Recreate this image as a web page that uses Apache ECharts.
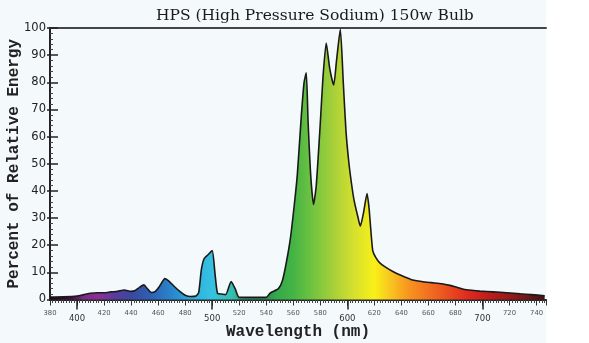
<!DOCTYPE html>
<html>
<head>
<meta charset="utf-8">
<script src="https://cdn.jsdelivr.net/npm/echarts@6/dist/echarts.min.js"></script>
<style>html,body{margin:0;padding:0;background:#ffffff;}#c{width:589px;height:343px;}</style>
</head>
<body>
<div id="c"></div>
<script>
var titleText = 'HPS (High Pressure Sodium) 150w Bulb';
var xName = 'Wavelength (nm)';
var yName = 'Percent of Relative Energy';
var minorXLabels = [380, 420, 440, 460, 480, 520, 540, 560, 580, 620, 640, 660, 680, 720, 740];
var majorXLabels = [400, 500, 600, 700];
var wavelengths = [380, 390, 400, 405, 410, 415, 420, 425, 430, 435, 440, 443, 446, 449.5, 452, 455, 458, 461, 465, 468, 472, 476, 480, 484, 488, 490, 492, 494, 497, 500, 502, 504, 507, 510, 514, 517, 520, 530, 540, 543, 549, 552, 555, 558, 561, 563, 566, 568, 569.6, 571, 573, 575, 577, 580, 582, 584.4, 587, 589.9, 592, 594.8, 597, 599, 601, 603, 605, 608, 609.6, 612, 614.6, 616, 617, 618.8, 621, 624, 628, 634, 640, 647, 655, 662, 670, 676, 681, 686, 692, 698, 708, 718, 728, 736, 746];
var energy = [0.9, 1.0, 1.3, 1.8, 2.3, 2.5, 2.5, 2.8, 3.0, 3.5, 3.0, 3.3, 4.4, 5.4, 4.0, 2.6, 3.0, 4.8, 7.7, 6.8, 4.8, 3.0, 1.6, 1.1, 1.3, 2.5, 11.0, 15.0, 16.5, 18.0, 10.0, 2.2, 2.0, 1.8, 6.6, 4.0, 0.8, 0.8, 0.8, 2.4, 4.0, 7.0, 14, 23, 36, 46, 68, 80, 83.5, 65, 45, 35, 42, 65, 82, 94.5, 85, 79, 88, 99.5, 80, 62, 51, 43, 36.5, 30, 27, 32, 39, 34, 28, 18, 15.5, 13.5, 12, 10.2, 8.8, 7.4, 6.6, 6.2, 5.8, 5.2, 4.5, 3.8, 3.4, 3.1, 2.8, 2.5, 2.1, 1.8, 1.4];
var spectrumStops = [
  [380, '#1c0614'], [395, '#3a1040'], [405, '#7a2a86'], [415, '#8c3094'], [428, '#5a3a9e'],
  [440, '#3a48a0'], [455, '#2c62b6'], [470, '#2a86cc'], [488, '#2eb2de'], [500, '#36c2e2'],
  [515, '#36bfae'], [525, '#2a8a68'], [538, '#2a8a58'], [548, '#34aa4a'], [560, '#44b444'],
  [575, '#74c440'], [590, '#a8d038'], [605, '#d6e02e'], [620, '#f8f018'], [630, '#f8cc20'],
  [645, '#f8961e'], [665, '#f06420'], [690, '#e0281e'], [710, '#b21a1a'], [730, '#7e1616'], [746, '#481010']
];

var X_MIN = 380, X_MAX = 747;
var data = wavelengths.map(function (w, i) { return [w, energy[i]]; });
var x0 = wavelengths[0], x1 = wavelengths[wavelengths.length - 1];
var grad = new echarts.graphic.LinearGradient(0, 0, 1, 0, spectrumStops.map(function (s) {
  return { offset: (s[0] - x0) / (x1 - x0), color: s[1] };
}));

var chart = echarts.init(document.getElementById('c'), null, { renderer: 'canvas' });
chart.setOption({
  animation: false,
  backgroundColor: '#ffffff',
  graphic: [{ type: 'rect', shape: { x: 0, y: 0, width: 546, height: 343 }, style: { fill: '#f4f9fb' }, z: -10, silent: true }],
  title: {
    text: titleText, left: 151, top: 3,
    textStyle: { fontFamily: 'DejaVu Serif', fontSize: 15.5, fontWeight: 'normal', color: '#1a1a1a' }
  },
  grid: { left: 50, right: 43, top: 28, bottom: 43.5, containLabel: false, outerBoundsMode: 'none' },
  xAxis: [
    {
      type: 'value', min: X_MIN, max: X_MAX, interval: 20, position: 'bottom',
      axisLine: { show: true, lineStyle: { color: '#222', width: 2 } },
      axisTick: { show: true, length: 6, lineStyle: { color: '#333', width: 1 } },
      minorTick: { show: true, splitNumber: 10, length: 3.5, lineStyle: { color: '#444', width: 1 } },
      splitLine: { show: false },
      axisLabel: { customValues: minorXLabels, margin: 10, fontSize: 6.8, color: '#555', fontFamily: 'DejaVu Sans' },
      name: xName, nameLocation: 'middle', nameGap: 24, nameMoveOverlap: false,
      nameTextStyle: { fontFamily: 'Liberation Mono', fontWeight: 'bold', fontSize: 16, color: '#222' }
    },
    {
      type: 'value', min: X_MIN, max: X_MAX, position: 'bottom',
      axisLine: { show: false },
      axisTick: { show: true, customValues: majorXLabels, length: 10, lineStyle: { color: '#222', width: 1.5 } },
      splitLine: { show: false },
      axisLabel: { customValues: majorXLabels, margin: 15, fontSize: 8.5, color: '#333', fontFamily: 'DejaVu Sans' }
    },
    {
      type: 'value', min: X_MIN, max: X_MAX, position: 'top',
      axisLine: { show: true, lineStyle: { color: '#444', width: 2 } },
      axisTick: { show: false }, axisLabel: { show: false }, splitLine: { show: false }
    }
  ],
  yAxis: [
    {
      type: 'value', min: 0, max: 100, interval: 10, position: 'left',
      axisLine: { show: true, lineStyle: { color: '#222', width: 2 } },
      axisTick: { show: true, length: 3, lineStyle: { color: '#222', width: 1.5 } },
      splitLine: { show: false },
      axisLabel: { margin: 4, fontSize: 11.5, color: '#222', fontFamily: 'DejaVu Sans' },
      name: yName, nameLocation: 'middle', nameGap: 28, nameRotate: 90, nameMoveOverlap: false,
      nameTextStyle: { fontFamily: 'Liberation Mono', fontWeight: 'bold', fontSize: 16, color: '#222' }
    },
    {
      type: 'value', min: 0, max: 100, interval: 10, position: 'left',
      axisLine: { show: false },
      axisTick: { show: true, inside: true, length: 8, lineStyle: { color: '#222', width: 1.5 } },
      minorTick: { show: true, splitNumber: 5, length: 3, lineStyle: { color: '#444', width: 1 } },
      splitLine: { show: false },
      axisLabel: { show: false }
    }
  ],
  series: [{
    type: 'line', data: data, xAxisIndex: 0, yAxisIndex: 0,
    symbol: 'none', smooth: 0.2,
    lineStyle: { color: '#1a1a1a', width: 1.6 },
    areaStyle: { color: grad, opacity: 1 },
    z: 3
  }]
});
</script>
</body>
</html>
